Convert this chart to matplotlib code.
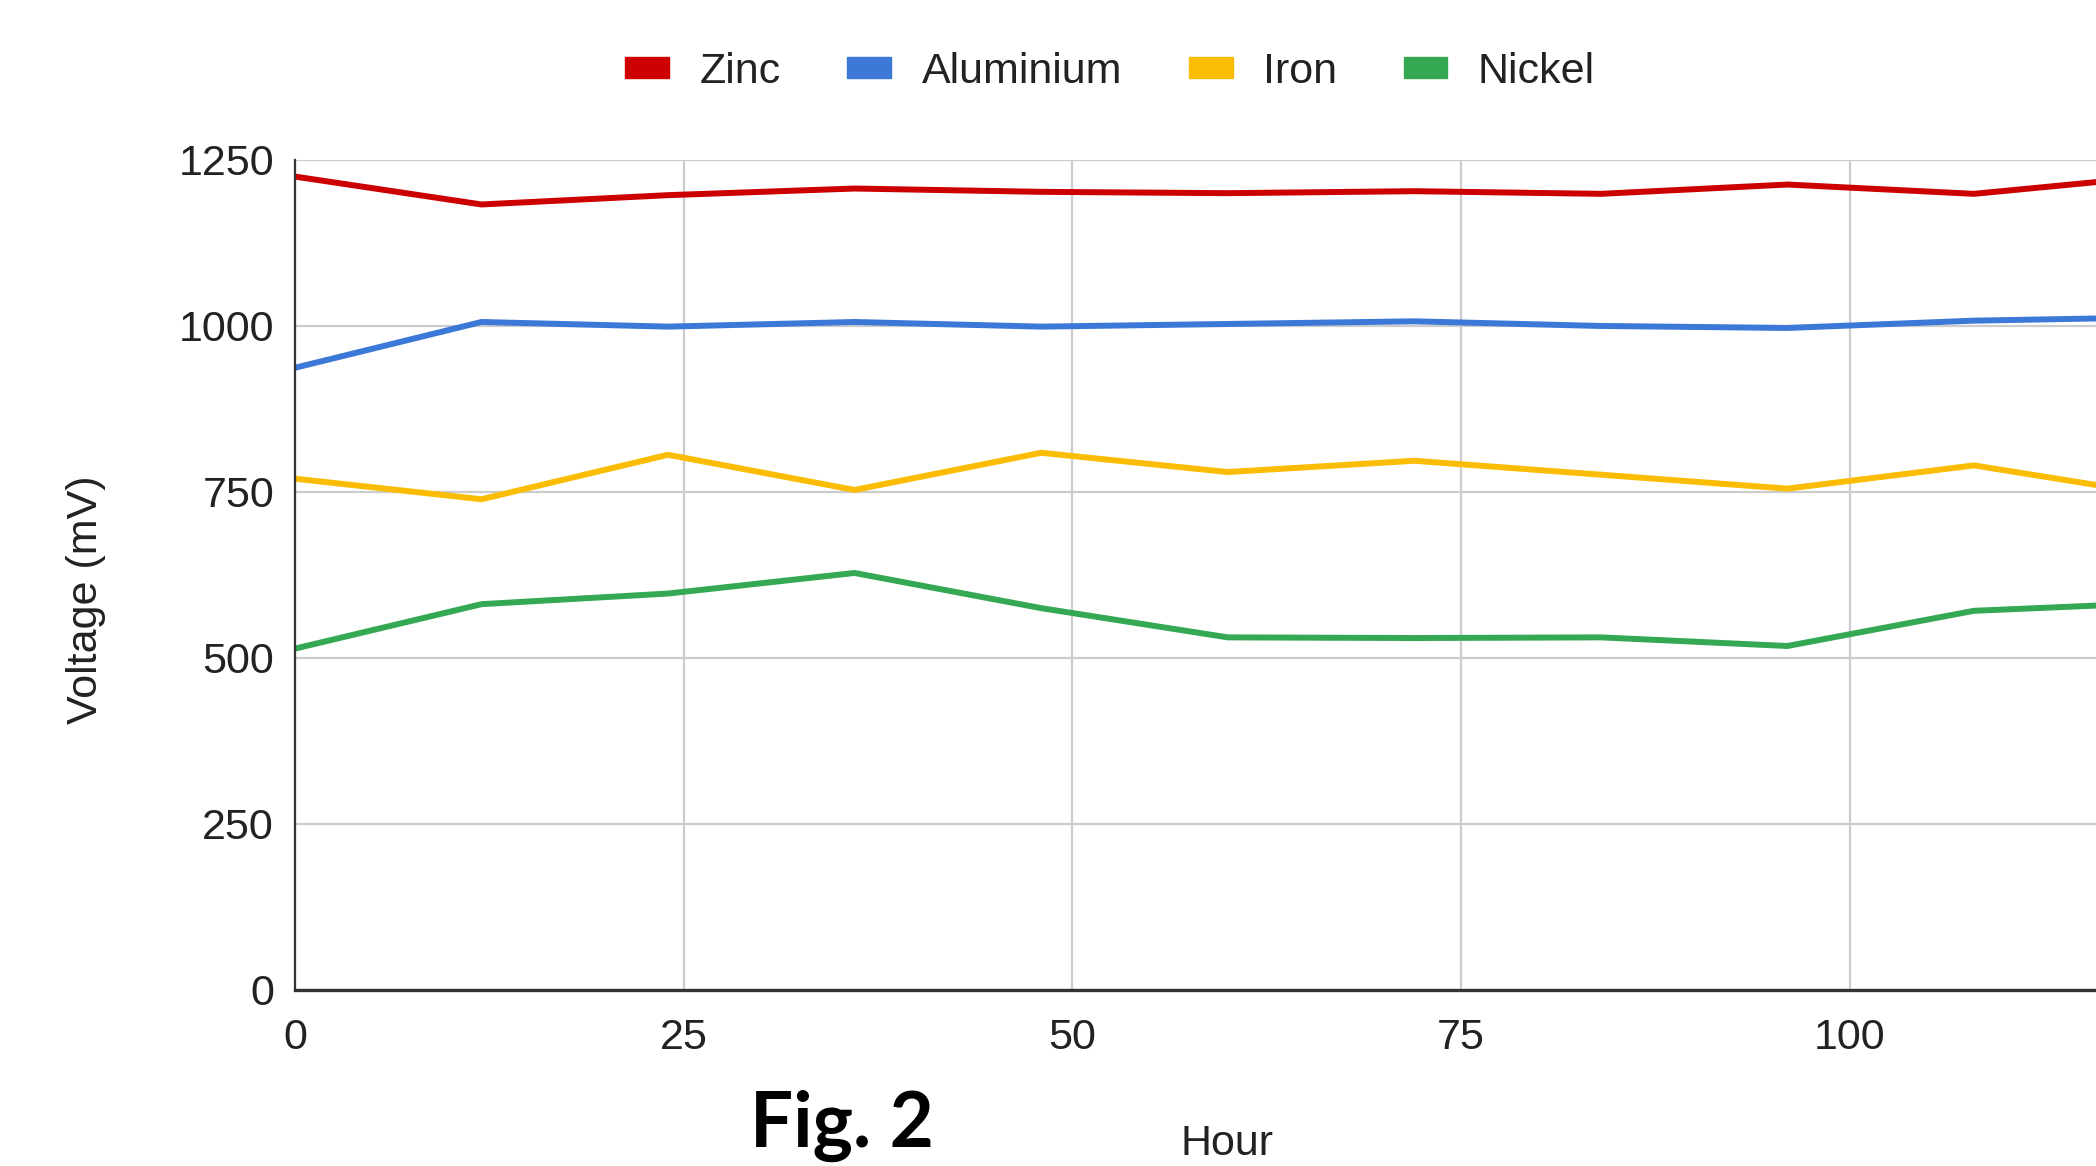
import matplotlib.pyplot as plt
import numpy as np

# hours sampled every 12 h (last point runs past the cropped right edge)
hours = [0, 12, 24, 36, 48, 60, 72, 84, 96, 108, 120]
zinc = [1225, 1183, 1197, 1207, 1202, 1200, 1203, 1199, 1213, 1199, 1226]
aluminium = [937, 1006, 999, 1006, 999, 1003, 1007, 1000, 997, 1008, 1013]
iron = [770, 739, 806, 753, 809, 780, 797, 776, 755, 790, 745]
nickel = [514, 581, 597, 628, 575, 531, 530, 531, 518, 571, 583]

names = ['Zinc', 'Aluminium', 'Iron', 'Nickel']
colors = ['#cc0000', '#3c78d8', '#fbbc04', '#34a853']

plt.rcParams['font.family'] = ['Liberation Sans', 'DejaVu Sans']
TXT = '#222222'

fig = plt.figure(figsize=(20.96, 11.66), dpi=100)
ax = fig.add_axes([0.1407, 0.151, 0.8593, 0.7118])

for vals, name, col in zip([zinc, aluminium, iron, nickel], names, colors):
    ax.plot(hours, vals, color=col, linewidth=4.3, label=name, solid_joinstyle='round')

ax.set_xlim(0, 115.85)
ax.set_ylim(0, 1250)
ax.set_xticks([0, 25, 50, 75, 100])
ax.set_yticks([0, 250, 500, 750, 1000, 1250])
ax.grid(True, color='#cccccc', linewidth=1.6)
ax.set_axisbelow(True)
for s in ['top', 'right']:
    ax.spines[s].set_visible(False)
ax.spines['left'].set_color('#333333')
ax.spines['left'].set_linewidth(1.6)
ax.spines['bottom'].set_color('#333333')
ax.spines['bottom'].set_linewidth(2.4)
ax.tick_params(length=0, labelsize=31, colors=TXT)
ax.tick_params(axis='y', pad=15)
ax.tick_params(axis='x', pad=20)

fig.text(0.041, 0.4854, 'Voltage (mV)', rotation=90, fontsize=31,
         color=TXT, ha='center', va='center')
fig.text(0.5855, 0.002, 'Hour', fontsize=31, color=TXT,
         ha='center', va='bottom')
fig.text(0.4018, 0.0163, 'Fig. 2', fontsize=55, fontweight='bold',
         family='Lato', color='black', ha='center', va='baseline')

handles = [plt.Rectangle((0, 0), 1, 1, color=c) for c in colors]
fig.legend(handles, names, loc='center', bbox_to_anchor=(0.5296, 0.938),
           ncol=4, frameon=False, fontsize=31, handlelength=1.02,
           handleheight=0.37, handletextpad=0.7, columnspacing=1.55,
           labelcolor=TXT)

fig.savefig('out.png', dpi=100)
